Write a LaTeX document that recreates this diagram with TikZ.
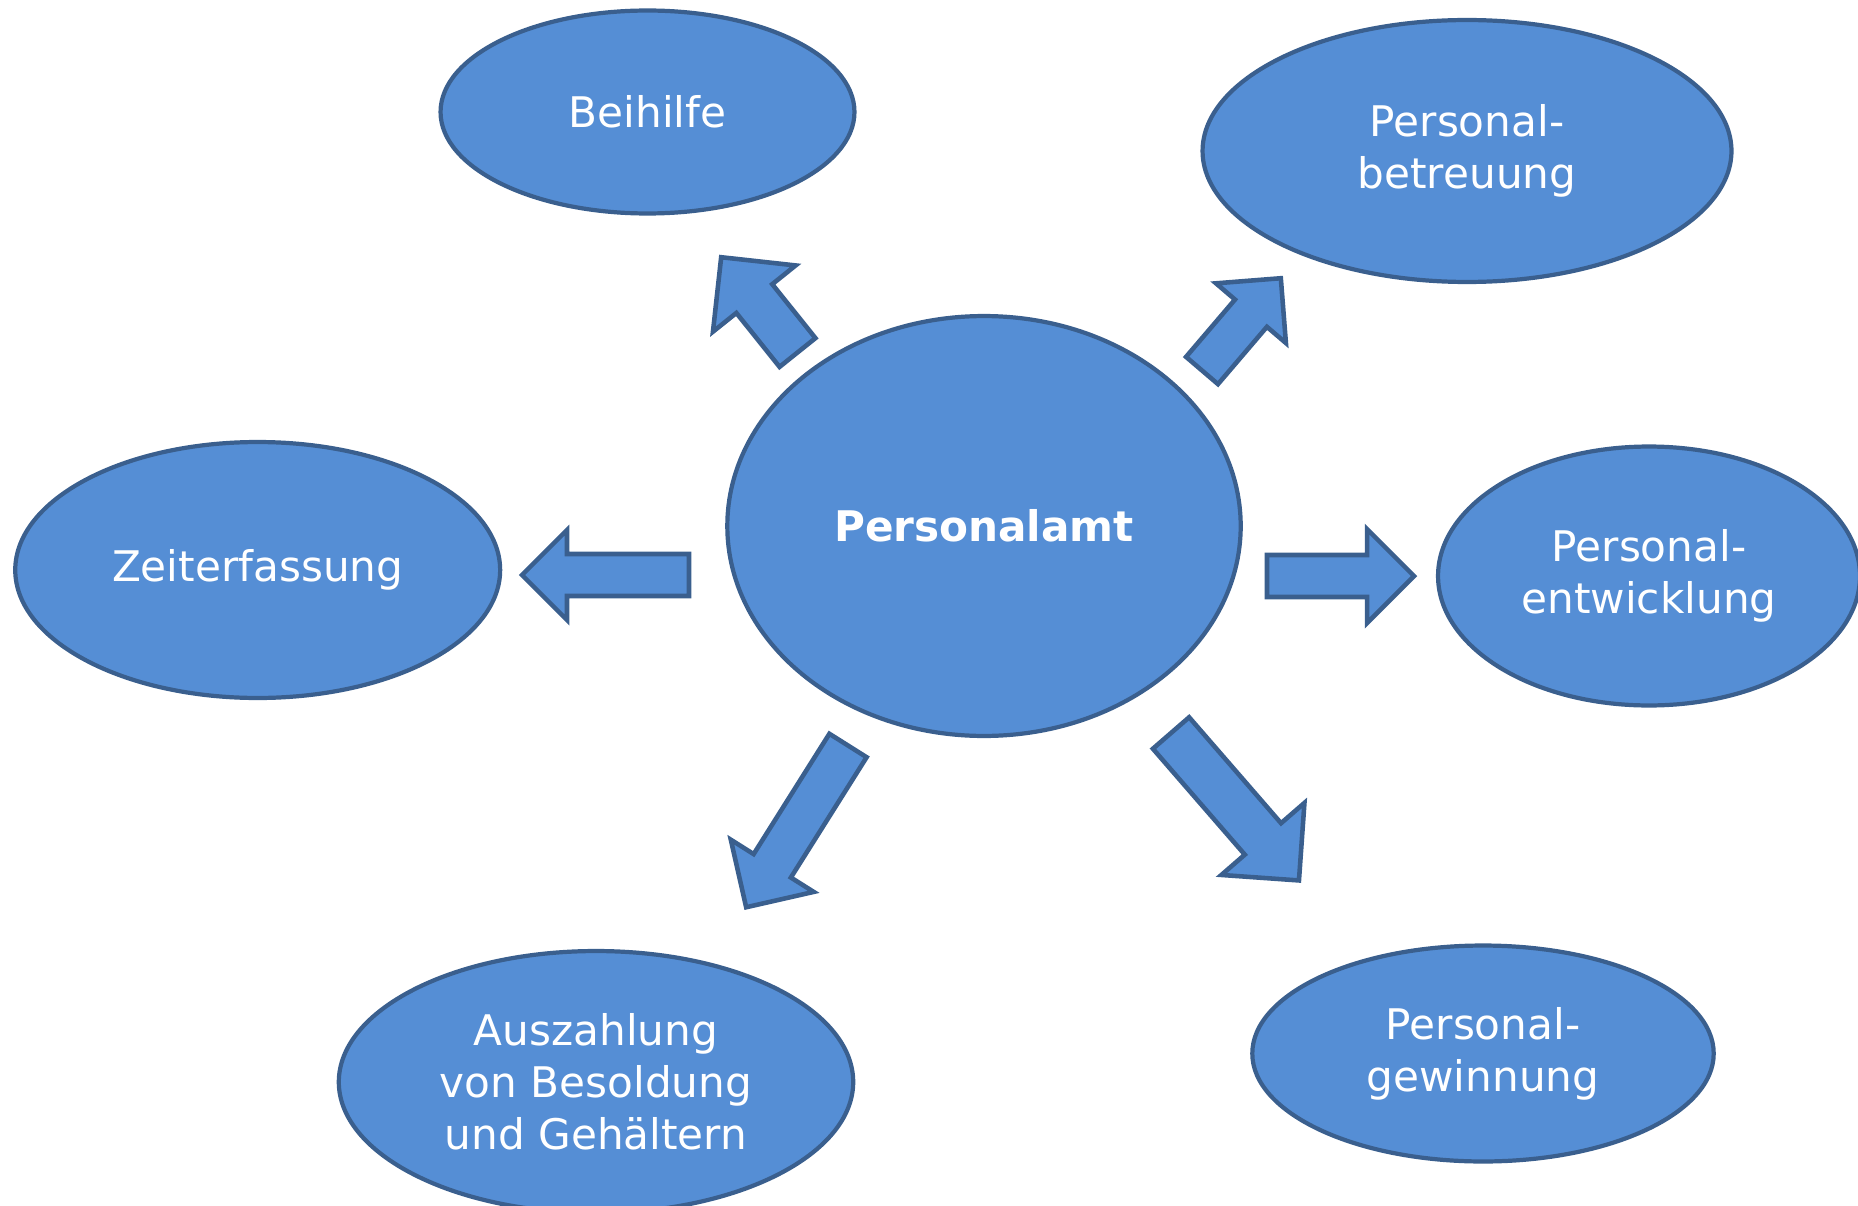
\documentclass[tikz,border=0pt]{standalone}
\usepackage{fontspec}
\setmainfont{DejaVu Sans}
\usepackage{tikz}
\usetikzlibrary{shapes.geometric,calc}

\definecolor{amtfill}{HTML}{558ED5}
\definecolor{amtline}{HTML}{3A5F8E}

% block arrow from tail to tip, shaft half width and head half width in px
\newcommand{\blockarrow}[4]{%
  \draw[blockarr] let \p1=(#1), \p2=(#2),
      \n1={atan2(\y2-\y1,\x2-\x1)}, \n2={veclen(\x2-\x1,\y2-\y1)},
      \n3={#3*0.569pt}, \n4={#4*0.569pt}, \n5={\n2-\n4} in
    [shift={(\p1)},rotate=\n1]
    (0pt,-\n3) -- (\n5,-\n3) -- (\n5,-\n4) -- (\n2,0pt)
    -- (\n5,\n4) -- (\n5,\n3) -- (0pt,\n3) -- cycle;}

\begin{document}
\begin{tikzpicture}[x=0.02cm,y=-0.02cm]
        \tikzstyle{blob}=[ellipse,draw=amtline,fill=amtfill,line width=2.4pt,inner sep=0pt,
            text=white,align=center,font=\fontsize{24}{29.5}\selectfont]
        \tikzstyle{blockarr}=[draw=amtline,fill=amtfill,line width=2.6pt,line join=miter]

        \useasboundingbox (0,0) rectangle (1858,1206);
        \clip (0,0) rectangle (1858,1206);

        %% Ellipses
        \node [blob,minimum width=8.28cm,minimum height=4.06cm] (beihilfe) at (647.5,112) {Beihilfe};
        \node [blob,minimum width=10.58cm,minimum height=5.24cm] (betreuung) at (1467,151) {Personal-\\betreuung};
        \node [blob,minimum width=9.7cm,minimum height=5.12cm] (zeit) at (257.7,570) {Zeiterfassung};
        \node [blob,minimum width=10.27cm,minimum height=8.4cm,font=\fontsize{24}{29.5}\selectfont\bfseries] (amt) at (984,526) {Personalamt};
        \node [blob,minimum width=8.44cm,minimum height=5.18cm] (entw) at (1649,576) {Personal-\\entwicklung};
        \node [blob,minimum width=10.29cm,minimum height=5.24cm] (ausz) at (596,1082) {Auszahlung\\von Besoldung\\und Gehältern};
        \node [blob,minimum width=9.23cm,minimum height=4.32cm] (gew) at (1483,1053.5) {Personal-\\gewinnung};

        %% Arrow ends
        \coordinate (beitail) at (797.5,352.5);
        \coordinate (beitip) at (721,257);
        \coordinate (bettail) at (1202,370.5);
        \coordinate (bettip) at (1281,278);
        \coordinate (zeittail) at (689,575);
        \coordinate (zeittip) at (522,575);
        \coordinate (entwtail) at (1267,576);
        \coordinate (entwtip) at (1414,576);
        \coordinate (ausztail) at (848,745.5);
        \coordinate (ausztip) at (746,907.5);
        \coordinate (gewtail) at (1171,733);
        \coordinate (gewtip) at (1299,880.5);

        %% Block arrows
        \blockarrow{beitail}{beitip}{23}{53}
        \blockarrow{bettail}{bettip}{21}{46}
        \blockarrow{zeittail}{zeittip}{21}{45}
        \blockarrow{entwtail}{entwtip}{21}{47}
        \blockarrow{ausztail}{ausztip}{22}{49}
        \blockarrow{gewtail}{gewtip}{24}{55}
\end{tikzpicture}
\end{document}
